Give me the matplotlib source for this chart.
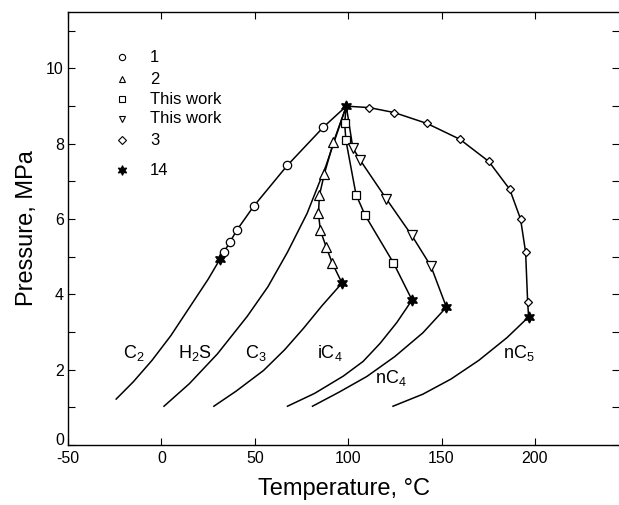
import matplotlib
matplotlib.use("Agg")
import matplotlib.pyplot as plt

plt.rcParams['font.family'] = ['Liberation Sans', 'DejaVu Sans']
plt.rcParams['mathtext.default'] = 'regular'
plt.rcParams['axes.unicode_minus'] = False

# ---- vapor-pressure curves (T in degC, P in MPa) ----
c2_T = [-24.2, -15, -5, 5, 15, 25, 31.3]
c2_P = [1.22, 1.68, 2.25, 2.9, 3.65, 4.4, 4.93]
h2s_T = [1.4, 15, 30, 46, 57, 67.5, 78, 88, 99]
h2s_P = [1.03, 1.63, 2.42, 3.42, 4.2, 5.12, 6.15, 7.4, 9.0]
c3_T = [28.1, 40, 54.7, 66, 76.1, 86, 96.7]
c3_P = [1.03, 1.43, 1.98, 2.53, 3.1, 3.7, 4.3]
ic4_T = [67.5, 82, 97.4, 108, 117.1, 126, 134.2]
ic4_P = [1.03, 1.37, 1.83, 2.22, 2.7, 3.25, 3.85]
nc4_T = [80.9, 95, 110, 125, 140, 152.6]
nc4_P = [1.03, 1.4, 1.82, 2.35, 2.98, 3.66]
nc5_T = [124, 140, 155, 170, 185, 196.6]
nc5_P = [1.03, 1.35, 1.75, 2.25, 2.85, 3.4]

# ---- critical-locus data points ----
ref1_T = [33.4, 36.6, 40.3, 49.4, 67.5, 86.7]          # circles (ref 1), H2S-C2
ref1_P = [5.12, 5.38, 5.70, 6.34, 7.43, 8.44]
ref2_T = [91.5, 88.3, 85.1, 84.1, 84.6, 87.3, 92.1]    # triangles (ref 2), H2S-C3
ref2_P = [4.83, 5.25, 5.70, 6.15, 6.63, 7.21, 8.04]
sq_T = [124.2, 109.1, 104.2, 98.8, 98.1]               # squares (this work), H2S-iC4
sq_P = [4.84, 6.10, 6.65, 8.09, 8.55]
tri_T = [144.3, 134.0, 120.4, 106.5, 102.5]            # inverted triangles (this work), H2S-nC4
tri_P = [4.75, 5.57, 6.54, 7.56, 7.89]
dia_T = [196.1, 195.0, 192.3, 186.5, 175.3, 159.8, 142.2, 124.6, 111.4]  # diamonds (ref 3), H2S-nC5
dia_P = [3.79, 5.12, 6.0, 6.79, 7.53, 8.12, 8.54, 8.83, 8.96]

# critical points of pure components (ref 14): C2, C3, iC4, nC4, nC5, H2S
crit_T = [31.3, 96.7, 134.2, 152.6, 196.6, 99.0]
crit_P = [4.93, 4.3, 3.85, 3.66, 3.4, 9.0]
h2s_crit = (99.0, 9.0)

curve_labels = ['C$_2$', 'H$_2$S', 'C$_3$', 'iC$_4$', 'nC$_4$', 'nC$_5$']
label_T = [-15, 18, 50.5, 90.4, 123, 191.5]
label_P = [2.44, 2.44, 2.44, 2.44, 1.78, 2.44]

legend_labels = ['1', '2', 'This work', 'This work', '3', '14']

fig = plt.figure(figsize=(6.19, 5.05), dpi=100)
ax = fig.add_axes([68/619, 60/505, (619-68)/619, (445-12)/505])

lw = 1.1
for T, P in [(c2_T, c2_P), (h2s_T, h2s_P), (c3_T, c3_P),
             (ic4_T, ic4_P), (nc4_T, nc4_P), (nc5_T, nc5_P)]:
    ax.plot(T, P, color='black', lw=lw, zorder=2, solid_joinstyle='round')

# critical loci lines: pure critical point -> data -> H2S critical point
loci = [
    (crit_T[0], crit_P[0], ref1_T, ref1_P),
    (crit_T[1], crit_P[1], ref2_T, ref2_P),
    (crit_T[2], crit_P[2], sq_T, sq_P),
    (crit_T[3], crit_P[3], tri_T, tri_P),
    (crit_T[4], crit_P[4], dia_T, dia_P),
]
for t0, p0, T, P in loci:
    ax.plot([t0] + T + [h2s_crit[0]], [p0] + P + [h2s_crit[1]],
            color='black', lw=lw, zorder=2, solid_joinstyle='round')

mkw = dict(ls='none', mfc='white', mec='black', mew=0.9, zorder=3)
ax.plot(ref1_T, ref1_P, marker='o', ms=6, **mkw)
ax.plot(ref2_T, ref2_P, marker='^', ms=6.5, **mkw)
ax.plot(sq_T, sq_P, marker='s', ms=6, **mkw)
ax.plot(tri_T, tri_P, marker='v', ms=6.5, **mkw)
ax.plot(dia_T, dia_P, marker='D', ms=4.5, **mkw)
ax.plot(crit_T, crit_P, ls='none', marker=(6, 1, 0), ms=8, color='black', zorder=4)

for lab, t, p in zip(curve_labels, label_T, label_P):
    ax.text(t, p, lab, fontsize=13, ha='center', va='center')

# legend (manual, as in the original figure)
leg_y = [0.896, 0.845, 0.799, 0.753, 0.704, 0.635]
leg_markers = ['o', '^', 's', 'v', 'D', (6, 1, 0)]
leg_ms = [4.5, 5, 5, 5, 4, 7]
for y, m, ms, lab in zip(leg_y, leg_markers, leg_ms, legend_labels):
    filled = (m == (6, 1, 0))
    ax.plot([0.098], [y], transform=ax.transAxes, marker=m, ms=ms, ls='none',
            mfc='black' if filled else 'white', mec='black', mew=0.8, clip_on=False)
    ax.text(0.149, y, lab, transform=ax.transAxes, fontsize=12, va='center', ha='left')

ax.set_xlim(-50, 245)
ax.set_ylim(0, 11.5)
ax.set_xticks([-50, 0, 50, 100, 150, 200])
ax.set_yticks([0, 2, 4, 6, 8, 10])
ax.set_yticks([1, 3, 5, 7, 9, 11], minor=True)
ax.tick_params(axis='both', which='both', direction='in', labelsize=11.5,
               length=5, width=0.8, top=True, right=True)
ax.tick_params(axis='x', pad=4)
ax.tick_params(axis='y', pad=3)
for t in ax.yaxis.get_major_ticks() + ax.yaxis.get_minor_ticks():
    t.tick2line.set_color('0.75')
# lift the "0" pressure label slightly, as in the original
ax.yaxis.get_major_ticks()[0].label1.set_verticalalignment('baseline')
ax.spines['right'].set_visible(False)
for s in ['left', 'bottom', 'top']:
    ax.spines[s].set_linewidth(1.0)

ax.set_xlabel('Temperature, \u00b0C', fontsize=17, labelpad=9)
ax.set_ylabel('Pressure, MPa', fontsize=17, labelpad=6)

fig.savefig('out.png', dpi=100)
